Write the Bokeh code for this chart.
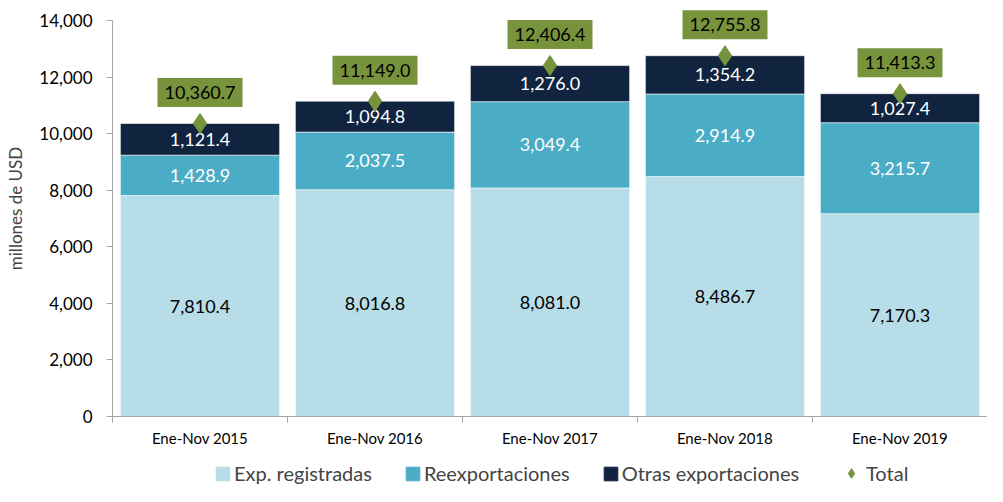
from bokeh.plotting import figure
from bokeh.layouts import column
from bokeh.models import (Range1d, LinearAxis, FixedTicker,
                          NumeralTickFormatter, Legend, LegendItem, ColumnDataSource)
from bokeh.core.properties import value
from bokeh.embed import file_html
from bokeh.resources import INLINE

categorias = ["Ene-Nov 2015", "Ene-Nov 2016", "Ene-Nov 2017", "Ene-Nov 2018", "Ene-Nov 2019"]
registradas = [7810.4, 8016.8, 8081.0, 8486.7, 7170.3]
reexportaciones = [1428.9, 2037.5, 3049.4, 2914.9, 3215.7]
otras = [1121.4, 1094.8, 1276.0, 1354.2, 1027.4]
totales = [10360.7, 11149.0, 12406.4, 12755.8, 11413.3]
y_ticks = [0, 2000, 4000, 6000, 8000, 10000, 12000, 14000]
series = ["Exp. registradas", "Reexportaciones", "Otras exportaciones", "Total"]

C_REG = "#B7DDE8"
C_REE = "#4BACC6"
C_OTR = "#11243F"
C_TOT = "#77933C"
FONT = "Lato"

def fmt(v):
    return f"{v:,.1f}"

n = len(categorias)
centros = [i + 0.5 for i in range(n)]
limites = list(range(n + 1))

src = ColumnDataSource(dict(
    x=centros, reg=registradas, ree=reexportaciones, otr=otras, tot=totales,
    reg_mid=[r / 2 for r in registradas],
    ree_mid=[r + e / 2 for r, e in zip(registradas, reexportaciones)],
    otr_mid=[r + e + o / 2 for r, e, o in zip(registradas, reexportaciones, otras)],
    reg_lbl=[fmt(v) for v in registradas],
    ree_lbl=[fmt(v) for v in reexportaciones],
    otr_lbl=[fmt(v) for v in otras],
    tot_lbl=[fmt(v) for v in totales],
))

p = figure(x_range=Range1d(0, n), y_range=Range1d(0, 14707),
           width=987, height=456, output_backend="svg", toolbar_location=None,
           x_axis_location=None, min_border_left=112, min_border_top=0,
           min_border_right=0, min_border_bottom=40, outline_line_color=None)
p.grid.visible = False

bars = p.vbar_stack(["reg", "ree", "otr"], x="x", width=0.91, source=src,
                    color=[C_REG, C_REE, C_OTR], line_color="white", line_width=0.6)

# segment labels
p.text(x="x", y="reg_mid", text="reg_lbl", source=src, text_align="center",
       text_baseline="middle", text_font=value(FONT), text_font_size="18px", text_color="black")
p.text(x="x", y="ree_mid", text="ree_lbl", source=src, text_align="center",
       text_baseline="middle", text_font=value(FONT), text_font_size="18px", text_color="white")
p.text(x="x", y="otr_mid", text="otr_lbl", source=src, text_align="center",
       text_baseline="middle", text_font=value(FONT), text_font_size="18px", text_color="white")

# total markers and boxed labels
p.scatter(x="x", y="tot", source=src, marker="diamond", size=20, color=C_TOT)
p.text(x="x", y="tot", text="tot_lbl", source=src, text_align="center",
       text_baseline="middle", y_offset=-31, text_font=value(FONT), text_font_size="18px",
       text_color="black", background_fill_color=C_TOT, padding=[7, 8])

# y axis
p.yaxis.ticker = FixedTicker(ticks=y_ticks)
p.yaxis.bounds = (0, 14000)
p.yaxis.formatter = NumeralTickFormatter(format="0,0")
p.yaxis.axis_line_color = "#A6A6A6"
p.yaxis.major_tick_line_color = "#A6A6A6"
p.yaxis.major_tick_out = 6
p.yaxis.major_tick_in = 0
p.yaxis.minor_tick_line_color = None
p.yaxis.major_label_standoff = 14
p.yaxis.major_label_text_font = FONT
p.yaxis.major_label_text_font_size = "17px"
p.yaxis.major_label_text_color = "black"
p.yaxis.axis_label = "millones de USD"
p.yaxis.axis_label_text_font = FONT
p.yaxis.axis_label_text_font_style = "normal"
p.yaxis.axis_label_text_font_size = "17px"
p.yaxis.axis_label_standoff = 10

# x axes: boundary ticks + category labels
tick_axis = LinearAxis(ticker=FixedTicker(ticks=limites),
                       major_label_text_font_size="0px", axis_line_color="#A6A6A6",
                       major_tick_line_color="#A6A6A6", major_tick_out=6, major_tick_in=0,
                       minor_tick_line_color=None, major_label_standoff=0)
p.add_layout(tick_axis, "below")
cat_axis = LinearAxis(ticker=FixedTicker(ticks=centros),
                      major_label_overrides={c: lbl for c, lbl in zip(centros, categorias)},
                      axis_line_color=None, major_tick_line_color=None, minor_tick_line_color=None,
                      major_label_text_font=FONT, major_label_text_font_size="15px",
                      major_label_text_color="black", major_label_standoff=0)
p.add_layout(cat_axis, "below")

# legend strip (swatch renderers sit outside the visible range; they only feed the legend)
q = figure(x_range=Range1d(0, 1), y_range=Range1d(0, 1), width=987, height=30,
           output_backend="svg", toolbar_location=None, x_axis_location=None,
           y_axis_location=None, min_border=0, outline_line_color=None)
q.grid.visible = False
lg_bars = [q.vbar(x=[-5], bottom=[-5], top=[-4], width=0.1, color=c) for c in (C_REG, C_REE, C_OTR)]
lg_tot = q.scatter(x=[-5], y=[-5], marker="diamond", size=12, color=C_TOT)

leg1 = Legend(items=[LegendItem(label=s, renderers=[r]) for s, r in zip(series[:3], lg_bars)],
              orientation="horizontal", location=(102, 1))
leg2 = Legend(items=[LegendItem(label=series[3], renderers=[lg_tot])],
              orientation="horizontal", location=(727, 1))
for lg, g in ((leg1, 17), (leg2, 24)):
    lg.label_text_font = FONT
    lg.label_text_font_size = "20px"
    lg.glyph_width = g
    lg.glyph_height = g
    lg.label_height = 24
    lg.spacing = 32
    lg.label_standoff = 3
    lg.border_line_color = None
    lg.background_fill_alpha = 0
    lg.margin = 0
    lg.padding = 2
    q.add_layout(lg, "center")

open("out.html", "w").write(file_html(column(p, q, spacing=0), INLINE))
